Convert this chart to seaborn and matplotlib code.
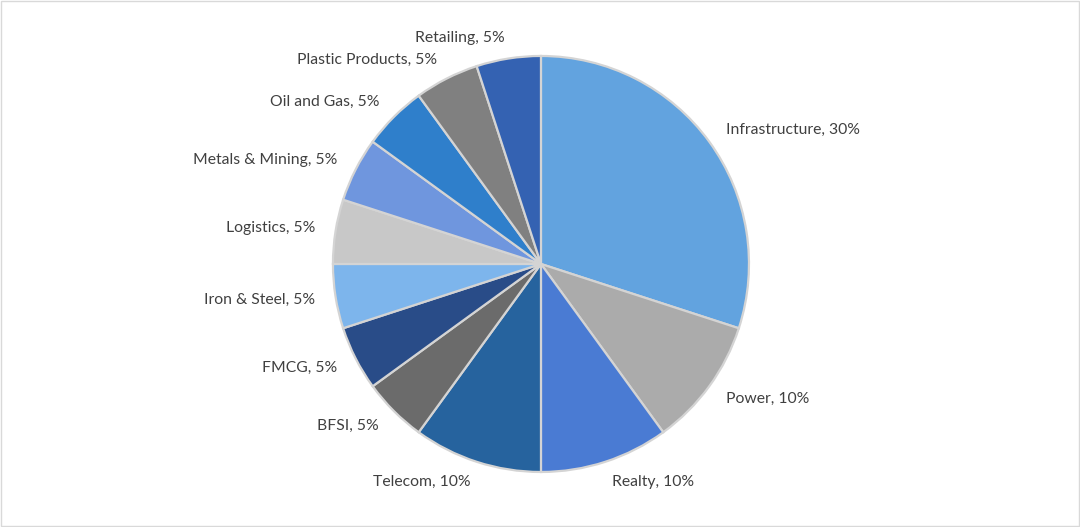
import matplotlib
matplotlib.use("Agg")
import matplotlib.pyplot as plt
import seaborn as sns
from matplotlib.patches import Rectangle

sectors = ['Infrastructure', 'Power', 'Realty', 'Telecom', 'BFSI', 'FMCG',
           'Iron & Steel', 'Logistics', 'Metals & Mining', 'Oil and Gas',
           'Plastic Products', 'Retailing']
shares = [30, 10, 10, 10, 5, 5, 5, 5, 5, 5, 5, 5]
colors = ['#62A3DF', '#ABABAB', '#4A7BD3', '#26639E', '#6B6B6B', '#294C88',
          '#7DB5EC', '#C8C8C8', '#6F96DE', '#2F7FCB', '#808080', '#3462B2']

sns.set_theme(style="white")
plt.rcParams['font.family'] = ['Lato', 'DejaVu Sans']

fig = plt.figure(figsize=(10.8, 5.27), dpi=100)
fig.patches.append(Rectangle((0.001, 0.002), 0.998, 0.996, transform=fig.transFigure,
                             fill=False, edgecolor='#D9D9D9', linewidth=1))

ax = fig.add_axes([0.3083, 0.1044, 0.3852, 0.7894])
labels = [f'{s}, {v}%' for s, v in zip(sectors, shares)]
wedges, texts = ax.pie(shares, labels=labels, colors=colors, startangle=90,
                       counterclock=False, radius=1, labeldistance=1.1,
                       wedgeprops=dict(edgecolor='#D4D4D4', linewidth=1.6),
                       textprops=dict(color='#404040', fontsize=11.3))
ax.set_xlim(-1, 1)
ax.set_ylim(-1, 1)
ax.set_aspect('auto')
ax.axis('off')

fig.savefig('out.png', dpi=100)
